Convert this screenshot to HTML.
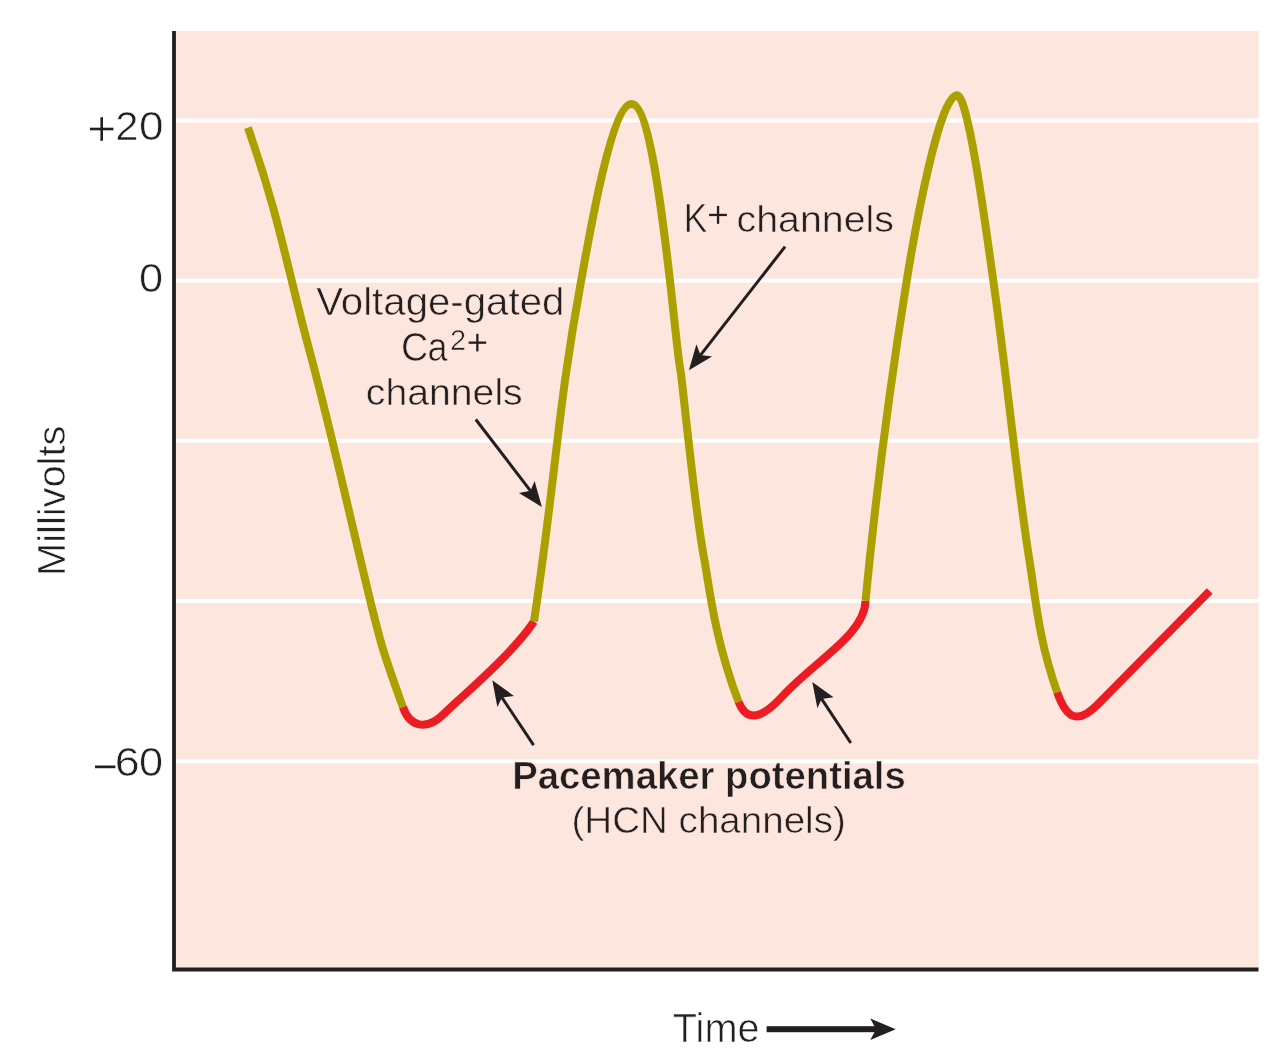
<!DOCTYPE html>
<html><head><meta charset="utf-8"><style>
html,body{margin:0;padding:0;background:#fff;width:1278px;height:1062px;overflow:hidden}
svg{display:block;will-change:transform}
text{font-family:"Liberation Sans",sans-serif}
</style></head><body>
<svg width="1278" height="1062" viewBox="0 0 1278 1062" xmlns="http://www.w3.org/2000/svg">
<rect x="174" y="31" width="1084.5" height="938" fill="#FCE6DD"/>
<g fill="#FFFFFF"><rect x="176" y="118.50" width="1082.5" height="4"/><rect x="176" y="278.60" width="1082.5" height="4"/><rect x="176" y="438.80" width="1082.5" height="4"/><rect x="176" y="599.00" width="1082.5" height="4"/><rect x="176" y="759.30" width="1082.5" height="4"/></g>
<path d="M174 31 V969.5 H1258.5" fill="none" stroke="#231F20" stroke-width="3.8"/>
<g fill="none" stroke-width="8.0" stroke-linecap="butt" stroke-linejoin="round">
<path d="M247.90 127.70 C278.98 215.52 287.96 271.20 309.30 350.00 C331.89 433.45 350.59 520.14 370.50 601.70 C382.30 650.03 384.20 654.40 402.90 707.20" stroke="#ABA000"/>
<path d="M402.90 707.20 C410.59 728.91 428.16 729.92 444.70 713.10 C456.75 700.84 511.21 655.72 534.00 621.50" stroke="#EC1C24"/>
<path d="M534.00 621.50 C556.68 469.71 557.01 411.86 581.20 280.30 C587.71 244.92 611.03 104.00 631.60 104.00 C657.64 104.00 675.43 350.47 680.50 370.70 C681.95 376.47 694.70 510.08 704.40 560.00 C708.26 579.88 714.34 639.85 738.60 701.90" stroke="#ABA000"/>
<path d="M738.60 701.90 C748.01 725.97 765.89 714.36 782.80 695.90 C814.31 661.51 865.06 634.36 865.50 600.80" stroke="#EC1C24"/>
<path d="M865.50 600.80 C876.52 487.30 890.99 378.63 906.70 280.80 C915.80 224.10 939.45 95.20 957.10 95.20 C968.63 95.20 986.89 235.58 993.30 280.80 C1007.19 378.76 1016.83 481.32 1029.40 560.00 C1035.88 600.57 1038.65 640.00 1057.20 692.30" stroke="#ABA000"/>
<path d="M1057.20 692.30 C1066.84 719.47 1078.08 724.45 1097.80 704.40 C1140.10 661.40 1167.40 633.83 1209.70 591.00" stroke="#EC1C24"/>
</g>
<g><line x1="475.8" y1="419.5" x2="530.5" y2="490.8" stroke="#231F20" stroke-width="3"/><path d="M541.9 506.9 L518.9 492.9 L530.5 490.8 L534.6 481.0 Z" fill="#231F20"/><line x1="785.1" y1="246.6" x2="700.5" y2="355.1" stroke="#231F20" stroke-width="3"/><path d="M688.9 370.2 L696.4 344.2 L700.5 355.1 L712.1 356.5 Z" fill="#231F20"/><line x1="533.6" y1="745.1" x2="502.0" y2="697.6" stroke="#231F20" stroke-width="3"/><path d="M492.3 680.3 L497.4 707.0 L502.0 697.6 L513.9 695.9 Z" fill="#231F20"/><line x1="850.8" y1="743.0" x2="821.6" y2="698.9" stroke="#231F20" stroke-width="3"/><path d="M812.3 681.9 L817.4 708.2 L821.6 698.9 L833.5 697.2 Z" fill="#231F20"/></g>
<rect x="766.6" y="1026.2" width="112" height="6" fill="#231F20"/><path d="M895.7 1029.2 L870.3 1018.5 L876 1029.2 L870.3 1040 Z" fill="#231F20"/>

<g font-size="40" fill="#231F20" stroke="#FFFFFF" stroke-width="0.60">
<text transform="translate(115.2 140) scale(1.043 1)">2</text><text transform="translate(138.88 140) scale(1.104 1)">0</text>
<text transform="translate(139.11 292.3) scale(1.083 1)">0</text>
<text transform="translate(114.72 775.8) scale(1.121 1)">6</text><text transform="translate(139.11 775.8) scale(1.083 1)">0</text>
<text transform="translate(64.9 572.7) rotate(-90) scale(1 0.95)" x="-3.27" y="0" lengthAdjust="spacingAndGlyphs" textLength="150.4">Millivolts</text>
<text x="672.82" y="1042" lengthAdjust="spacingAndGlyphs" textLength="86.71">Time</text>
</g>
<g font-size="40" fill="#231F20" stroke="#FCE6DD" stroke-width="0.60">
<text transform="translate(316.22 314.9) scale(1 0.96)" lengthAdjust="spacingAndGlyphs" textLength="248.14">Voltage-gated</text>
<text transform="translate(400.88 360.5) scale(0.944 1)">C</text><text transform="translate(427.42 360.5) scale(0.9 1)">a</text>
<text x="450" y="350" font-size="29">2</text>
<text transform="translate(365.84 405.4) scale(1 0.93)" lengthAdjust="spacingAndGlyphs" textLength="156.88">channels</text>
<text transform="translate(683.7 232.3) scale(0.885 1)">K</text>
<text transform="translate(736.53 232.3) scale(1 0.93)" lengthAdjust="spacingAndGlyphs" textLength="157.39">channels</text>
<text x="512.24" y="788.6" font-size="38.7" font-weight="bold" lengthAdjust="spacingAndGlyphs" textLength="393.53">Pacemaker potentials</text>
<text transform="translate(571.51 833.2) scale(1 0.94)" lengthAdjust="spacingAndGlyphs" textLength="274.28">(HCN channels)</text>
</g>
<g fill="#231F20">
<rect x="89.9" y="127.7" width="23.6" height="2.6"/><rect x="100.4" y="117.2" width="2.6" height="23.6"/>
<rect x="468.6" y="341.5" width="17.6" height="2.3"/><rect x="476.2" y="333.8" width="2.3" height="17.6"/>
<rect x="709.1" y="213.8" width="17.8" height="2.3"/><rect x="716.9" y="206.0" width="2.3" height="17.8"/>
<rect x="95" y="765.5" width="20.4" height="2.7"/>
</g>

</svg>
</body></html>
